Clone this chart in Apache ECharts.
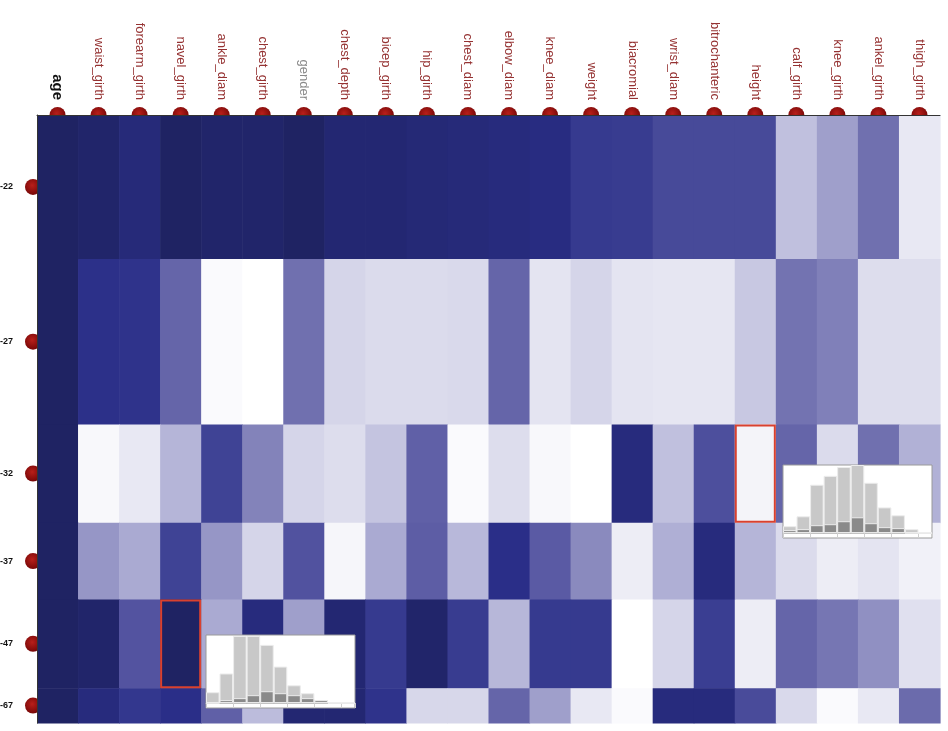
<!DOCTYPE html>
<html>
<head>
<meta charset="utf-8">
<script src="https://cdn.jsdelivr.net/npm/echarts@6/dist/echarts.min.js"></script>
<style>
  html, body { margin: 0; padding: 0; background: #fff; }
  #chart { width: 948px; height: 731px; }
</style>
</head>
<body>
<div id="chart"></div>
<script>
// columns of the heatmap (variables), ordered as in the picture
const columns = ['age', 'waist_girth', 'forearm_girth', 'navel_girth', 'ankle_diam', 'chest_girth', 'gender',
    'chest_depth', 'bicep_girth', 'hip_girth', 'chest_diam', 'elbow_diam', 'knee_diam', 'weight', 'biacromial',
    'wrist_diam', 'bitrochanteric', 'height', 'calf_girth', 'knee_girth', 'ankel_girth', 'thigh_girth'];

// age bins (rows) and how many people fall in each bin -> row height
const ageBins = ['18-22', '23-27', '28-32', '33-37', '38-47', '48-67'];
const binCounts = [120, 138, 82, 64, 74, 29];

// shade per cell, 0 = white, 1 = darkest navy
const v18_22 = [1.0, 0.98, 0.94, 1.0, 0.98, 0.98, 1.0, 0.96, 0.96, 0.95, 0.94, 0.93, 0.92, 0.85, 0.84, 0.77, 0.77, 0.77, 0.30, 0.45, 0.60, 0.10];
const v23_27 = [1.0, 0.89, 0.88, 0.64, 0.02, 0.0, 0.60, 0.20, 0.17, 0.17, 0.18, 0.64, 0.12, 0.20, 0.12, 0.11, 0.11, 0.26, 0.59, 0.55, 0.16, 0.16];
const v28_32 = [1.0, 0.03, 0.10, 0.36, 0.81, 0.54, 0.20, 0.16, 0.28, 0.66, 0.02, 0.16, 0.03, 0.0, 0.93, 0.30, 0.74, 0.05, 0.64, 0.17, 0.60, 0.38];
const v33_37 = [1.0, 0.48, 0.41, 0.81, 0.48, 0.20, 0.72, 0.04, 0.41, 0.67, 0.34, 0.90, 0.68, 0.52, 0.08, 0.39, 0.93, 0.36, 0.17, 0.08, 0.12, 0.06];
const v38_47 = [1.0, 0.98, 0.71, 1.0, 0.41, 0.93, 0.45, 0.96, 0.85, 0.98, 0.84, 0.35, 0.85, 0.85, 0.0, 0.20, 0.83, 0.08, 0.64, 0.58, 0.50, 0.14];
const v48_67 = [1.0, 0.93, 0.86, 0.90, 0.66, 0.32, 0.96, 0.96, 0.88, 0.19, 0.19, 0.64, 0.45, 0.10, 0.02, 0.93, 0.93, 0.76, 0.18, 0.02, 0.10, 0.62];
const rowValues = [v18_22, v23_27, v28_32, v33_37, v38_47, v48_67];

// selected cells [column, row]
const highlights = [[3, 4], [17, 2]];

// histogram popups: all people vs. people in the selected cell
const histBins = ['1', '2', '3', '4', '5', '6', '7', '8', '9', '10', '11'];
const navelAll = [11, 30, 68, 68, 59, 37, 18, 10, 3, 0, 0];
const navelSel = [0, 3, 5, 8, 12, 10, 8, 5, 3, 0, 0];
const heightAll = [7, 17, 49, 58, 67, 69, 51, 26, 18, 4, 0];
const heightSel = [3, 4, 8, 9, 12, 16, 10, 6, 5, 0, 0];

const total = binCounts.reduce((a, b) => a + b, 0);
const edges = [0];
binCounts.forEach((c) => edges.push(edges[edges.length - 1] + c));

const cells = [];
rowValues.forEach((row, r) => {
    row.forEach((v, c) => cells.push([c, edges[r], edges[r + 1], v]));
});
const marked = highlights.map(([c, r]) => [c, edges[r], edges[r + 1]]);

const labelFont = '"Liberation Sans", Arial, sans-serif';
const dotColor = () => ({
    type: 'radial', x: 0.45, y: 0.4, r: 0.6,
    colorStops: [{ offset: 0, color: '#b81f1a' }, { offset: 1, color: '#760707' }],
});

const rectItem = (api, inset) => {
    const p0 = api.coord([api.value(0), api.value(1)]);
    const p1 = api.coord([api.value(0) + 1, api.value(2)]);
    return { x: p0[0] + inset, y: p0[1] + inset, width: p1[0] - p0[0] - 2 * inset, height: p1[1] - p0[1] - 2 * inset };
};

const histGrid = (left, top) => ({
    left, top, width: 149, height: 73, show: true, z: 10,
    backgroundColor: '#fff', borderColor: '#9a9a9a', borderWidth: 1,
});
const histX = (gridIndex) => ({
    type: 'category', gridIndex, data: histBins, z: 11,
    axisLine: { onZero: true, lineStyle: { color: '#bdbdbd' } },
    axisTick: { show: true, length: 5, lineStyle: { color: '#cfcfcf' } },
    axisLabel: { show: false },
});
const histY = (gridIndex) => ({
    type: 'value', gridIndex, min: -5, max: 69, show: false, splitLine: { show: false },
});
// x axes 2,3 and y axes 1,2 belong to the two popups
const histBar = (axis, data, color) => ({
    type: 'bar', xAxisIndex: axis, yAxisIndex: axis - 1, data, z: 12,
    barCategoryGap: '0%', barGap: '-100%', silent: true,
    itemStyle: { color, borderColor: '#ececec', borderWidth: 1 },
});

const chart = echarts.init(document.getElementById('chart'));
chart.setOption({
    animation: false,
    backgroundColor: '#fff',
    grid: [
        { left: 37, top: 115, width: 903, height: 608 },
        histGrid(206, 635),
        histGrid(783, 465),
    ],
    xAxis: [
        {
            type: 'value', gridIndex: 0, min: 0, max: columns.length, position: 'top', z: 10,
            axisLine: { show: true, lineStyle: { color: '#333', width: 1 } },
            axisTick: { show: false }, axisLabel: { show: false }, splitLine: { show: false },
        },
        {
            type: 'category', gridIndex: 0, data: columns, position: 'top',
            axisLine: { show: false }, axisTick: { show: false },
            axisLabel: {
                interval: 0, rotate: 90, margin: 15,
                formatter: (v) => (v === 'age' ? '{a|age}' : v === 'gender' ? '{g|gender}' : '{n|' + v + '}'),
                rich: {
                    a: { color: '#111', fontSize: 15, fontWeight: 'bold', fontFamily: labelFont },
                    g: { color: '#8a8a8a', fontSize: 13, fontFamily: labelFont },
                    n: { color: '#953232', fontSize: 13, fontFamily: labelFont },
                },
            },
        },
        histX(1),
        histX(2),
    ],
    yAxis: [
        {
            type: 'value', gridIndex: 0, min: 0, max: total, inverse: true, z: 10,
            axisLine: { show: true, lineStyle: { color: '#333', width: 1 } },
            axisTick: { show: false }, axisLabel: { show: false }, splitLine: { show: false },
        },
        histY(1),
        histY(2),
    ],
    visualMap: {
        show: false, type: 'continuous', min: 0, max: 1, dimension: 3, seriesIndex: 0,
        inRange: {
            color: ['#ffffff', '#e8e8f3', '#d5d5e9', '#c0c0de', '#adadd4', '#9090c2',
                '#7070af', '#5555a1', '#414596', '#2a2e88', '#1f2363'],
        },
    },
    series: [
        {
            type: 'custom', xAxisIndex: 0, yAxisIndex: 0, z: 2, data: cells,
            encode: { x: 0, y: [1, 2] },
            renderItem: (params, api) => {
                const s = rectItem(api, 0);
                s.width += 0.6;
                s.height += 0.6;
                return { type: 'rect', shape: s, style: { fill: api.visual('color') } };
            },
        },
        {
            type: 'custom', xAxisIndex: 0, yAxisIndex: 0, z: 5, data: marked,
            encode: { x: 0, y: [1, 2] },
            renderItem: (params, api) => ({
                type: 'rect', shape: rectItem(api, 1),
                style: { fill: 'none', stroke: '#d9412f', lineWidth: 2 },
            }),
        },
        {
            type: 'scatter', xAxisIndex: 0, yAxisIndex: 0, z: 1, clip: false, silent: true,
            symbolSize: 16, itemStyle: { color: dotColor(), opacity: 1 },
            data: columns.map((c, i) => [i + 0.5, 0]),
        },
        {
            type: 'scatter', xAxisIndex: 0, yAxisIndex: 0, z: 1, clip: false, silent: true,
            symbolSize: 16, symbolOffset: [-4, 0], itemStyle: { color: dotColor(), opacity: 1 },
            data: ageBins.map((b, i) => ({ name: b, value: [0, (edges[i] + edges[i + 1]) / 2] })),
            label: {
                show: true, position: 'left', distance: 12, formatter: '{b}',
                color: '#111', fontSize: 9, fontWeight: 'bold', fontFamily: labelFont,
            },
        },
        histBar(2, navelAll, '#c8c8c8'),
        histBar(2, navelSel, '#8a8a8a'),
        histBar(3, heightAll, '#c8c8c8'),
        histBar(3, heightSel, '#8a8a8a'),
    ],
});
</script>
</body>
</html>
